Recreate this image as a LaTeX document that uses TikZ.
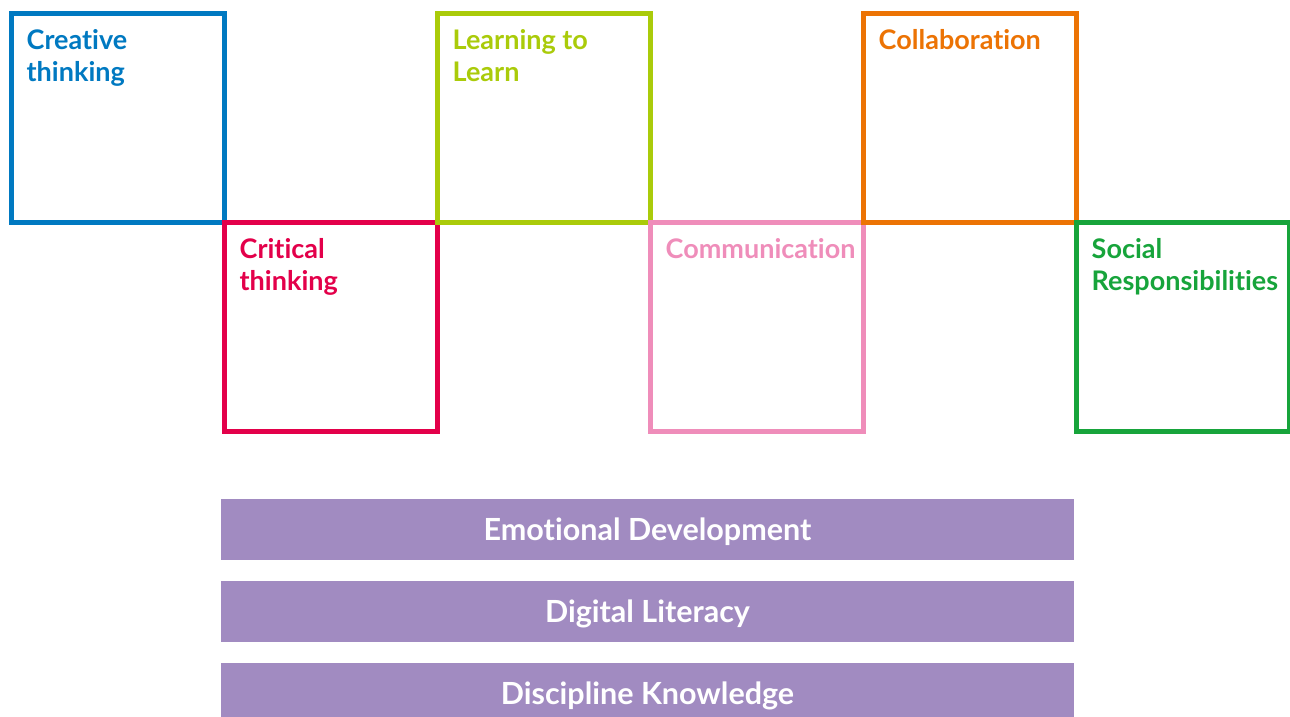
\documentclass[tikz,border=0pt]{standalone}
\usepackage{fontspec}
\setmainfont{Lato}[Ligatures=NoCommon]
\usetikzlibrary{positioning}

\definecolor{cblue}{HTML}{0079C1}
\definecolor{cred}{HTML}{E3004A}
\definecolor{clime}{HTML}{AACB0A}
\definecolor{cpink}{HTML}{EF8DBA}
\definecolor{corange}{HTML}{EC7304}
\definecolor{cgreen}{HTML}{17A43B}
\definecolor{cpurple}{HTML}{A18BC1}

\begin{document}
\begin{tikzpicture}[x=1pt,y=-1pt,node distance=0pt,
        skill/.style={draw=#1,line width=5pt,outer sep=0pt,inner sep=0pt,minimum width=213pt,minimum height=209pt},
        skill text/.style={text=#1,font=\fontsize{27}{32}\selectfont\bfseries,align=left,anchor=north west,inner sep=0pt},
        bar/.style={fill=cpurple,text=white,outer sep=0pt,inner sep=0pt,minimum width=853pt,minimum height=61pt,text height=22pt,text depth=0pt,font=\fontsize{30.5}{36}\selectfont\bfseries}]

                        \useasboundingbox (0,0) rectangle (1290,716);

                        % the six skill squares, stepping up and down
                        \node[skill=cblue] (1) at (117.5,117.5) {};
                        \node[skill=cred] (2) [below right = of 1] {};
                        \node[skill=clime] (3) [above right = of 2] {};
                        \node[skill=cpink] (4) [below right = of 3] {};
                        \node[skill=corange] (5) [above right = of 4] {};
                        \node[skill=cgreen] (6) [below right = of 5] {};

                        \node[skill text=cblue] (l1) at ([shift={(15.5,16)}]1.north west) {Creative\\thinking};
                        \node[skill text=cred] (l2) at ([shift={(15.5,16)}]2.north west) {Critical\\thinking};
                        \node[skill text=clime] (l3) at ([shift={(15.5,16)}]3.north west) {Learning to\\Learn};
                        \node[skill text=cpink] (l4) at ([shift={(15.5,16)}]4.north west) {Communication};
                        \node[skill text=corange] (l5) at ([shift={(15.5,16)}]5.north west) {Collaboration};
                        \node[skill text=cgreen] (l6) at ([shift={(15.5,16)}]6.north west) {Social\\Responsibilities};

                        % the three base bars
                        \node[bar] (7) at (647.5,529.5) {Emotional Development};
                        \node[bar] (8) [below = 21pt of 7] {Digital Literacy};
                        \node[bar] (9) [below = 21pt of 8] {Discipline Knowledge};
                    \end{tikzpicture}
\end{document}
